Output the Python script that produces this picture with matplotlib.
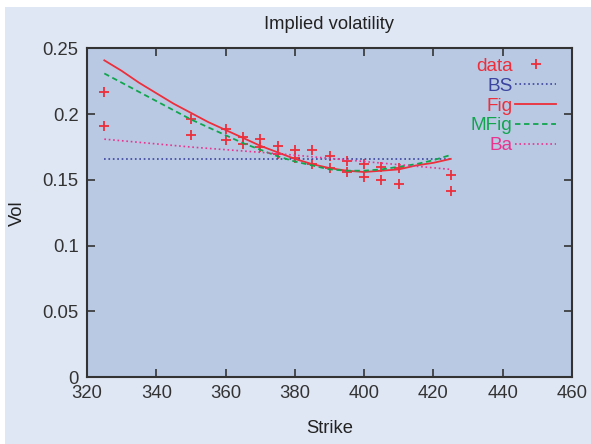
import numpy as np
import matplotlib.pyplot as plt
from matplotlib.patches import Rectangle

plt.rcParams['font.family'] = ['Liberation Sans', 'DejaVu Sans']

# market implied vols (two quotes per strike)
data_strike = [325, 325, 350, 350, 360, 360, 365, 365, 370, 370, 375, 375,
               380, 380, 385, 385, 390, 390, 395, 395, 400, 400, 405, 405,
               410, 410, 425, 425]
data_vol = [0.217, 0.191, 0.196, 0.184, 0.189, 0.180, 0.183, 0.1775, 0.181, 0.175,
            0.1755, 0.1695, 0.173, 0.1664, 0.1727, 0.1624, 0.168, 0.1589,
            0.1644, 0.1558, 0.1619, 0.152, 0.160, 0.1497, 0.1588, 0.1467,
            0.154, 0.1414]

curve_strike = [325, 330, 335, 340, 345, 350, 355, 360, 365, 370, 375,
                380, 385, 390, 395, 400, 405, 410, 415, 420, 425]
fig_vol = [0.241, 0.233, 0.224, 0.216, 0.208, 0.201, 0.194, 0.188, 0.182, 0.176,
           0.171, 0.166, 0.162, 0.159, 0.157, 0.156, 0.157, 0.158, 0.161, 0.163, 0.166]
mfig_vol = [0.231, 0.224, 0.217, 0.210, 0.203, 0.196, 0.190, 0.184, 0.178, 0.173,
            0.168, 0.164, 0.161, 0.158, 0.157, 0.157, 0.158, 0.160, 0.162, 0.165, 0.169]
bs_strike = [325, 425]
bs_vol = [0.166, 0.166]
ba_strike = [325, 350, 375, 400, 425]
ba_vol = [0.181, 0.175, 0.170, 0.164, 0.158]

xticks = [320, 340, 360, 380, 400, 420, 440, 460]
yticks = [0, 0.05, 0.1, 0.15, 0.2, 0.25]
ytick_labels = ['0', '0.05', '0.1', '0.15', '0.2', '0.25']

red = '#ec2f3a'
blue = '#3b449e'
green = '#12a54e'
pink = '#e8348f'

fig = plt.figure(figsize=(5.91, 4.44), dpi=100, facecolor='white')
bg = Rectangle((5 / 591, 0), 1, 1 - 7 / 444, transform=fig.transFigure,
               facecolor='#e0e7f4', edgecolor='none', zorder=-10)
fig.add_artist(bg)
ax = fig.add_axes([87 / 591, 1 - 377 / 444, 485 / 591, 328.5 / 444])
ax.set_facecolor('#b9c9e4')

ax.plot(data_strike, data_vol, '+', color=red, ms=7, mew=1.3, label='data')
ax.plot(bs_strike, bs_vol, ':', color=blue, lw=1.2, label='BS')
ax.plot(curve_strike, fig_vol, '-', color=red, lw=1.3, label='Fig')
ax.plot(curve_strike, mfig_vol, '--', color=green, lw=1.3, dashes=(3, 2), label='MFig')
ax.plot(ba_strike, ba_vol, ':', color=pink, lw=1.2, label='Ba')

ax.set_xlim(320, 460)
ax.set_ylim(0, 0.25)
ax.set_xticks(xticks)
ax.set_yticks(yticks)
ax.set_yticklabels(ytick_labels)
ax.tick_params(direction='in', length=6, width=1.2, colors='#333333',
               labelsize=13.3, top=True, right=True, pad=6)
ax.tick_params(axis='x', pad=6)
for s in ax.spines.values():
    s.set_linewidth(1.5)
    s.set_color('#333333')

ax.set_title('Implied volatility', fontsize=13.2, pad=14, color='#222222')
ax.set_xlabel('Strike', fontsize=13.2, labelpad=13, color='#222222')
ax.set_ylabel('Vol', fontsize=13.2, labelpad=12, color='#222222')

leg = ax.legend(loc='upper right', bbox_to_anchor=(0.968, 0.972), frameon=False,
                markerfirst=False, fontsize=13.7, labelspacing=0.13, handlelength=2.2,
                handletextpad=0.1, borderpad=0, borderaxespad=0, labelcolor='linecolor')
for t in leg.get_texts():
    t.set_ha('right')

fig.savefig('out.png', dpi=100, facecolor=fig.get_facecolor())
